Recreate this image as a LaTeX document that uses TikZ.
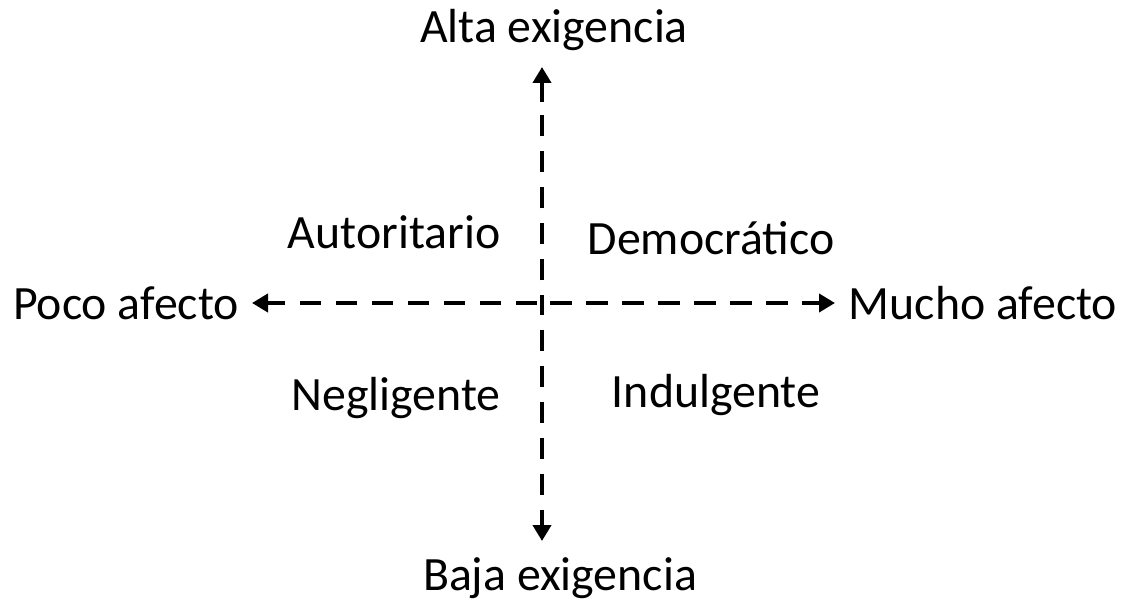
\documentclass[tikz,border=0pt]{standalone}
\usepackage{fontspec}
\setmainfont{Carlito}
\usetikzlibrary{arrows.meta}
\begin{document}
\begin{tikzpicture}[x=1bp,y=-1bp,
  lbl/.style={inner sep=0pt,font=\fontsize{48}{57}\selectfont},
  axisdash/.style={line width=4.5bp,dash pattern=on 21.5bp off 14.5bp},
  axistip/.style={line width=4.5bp,-{Triangle[width=18bp,length=16bp]}}]
\useasboundingbox (0,0) rectangle (1128,610);
\coordinate (o) at (542,303);
\coordinate (tops) at (542,102);
\coordinate (top) at (542,67);
\coordinate (bots) at (542,512);
\coordinate (bot) at (542,541);
\coordinate (lefts) at (284,303);
\coordinate (left) at (252,303);
\coordinate (rights) at (802,303);
\coordinate (right) at (835,303);
\draw[axisdash,dash phase=13.5bp] (o) -- (tops);
\draw[axisdash,dash phase=9.5bp] (o) -- (bots);
\draw[axisdash,dash phase=31bp] (o) -- (lefts);
\draw[axisdash,dash phase=28bp] (o) -- (rights);
\draw[axistip] (tops) -- (top);
\draw[axistip] (bots) -- (bot);
\draw[axistip] (lefts) -- (left);
\draw[axistip] (rights) -- (right);
\node[lbl] (alta) at (554,30) {Alta exigencia};
\node[lbl] (baja) at (560,578) {Baja exigencia};
\node[lbl] (poco) at (126,303) {Poco afecto};
\node[lbl] (mucho) at (983,303) {Mucho afecto};
\node[lbl] (auto) at (394,232) {Autoritario};
\node[lbl] (demo) at (711,238) {Democrático};
\node[lbl] (neg) at (396,398) {Negligente};
\node[lbl] (ind) at (716,395) {Indulgente};
\end{tikzpicture}
\end{document}
